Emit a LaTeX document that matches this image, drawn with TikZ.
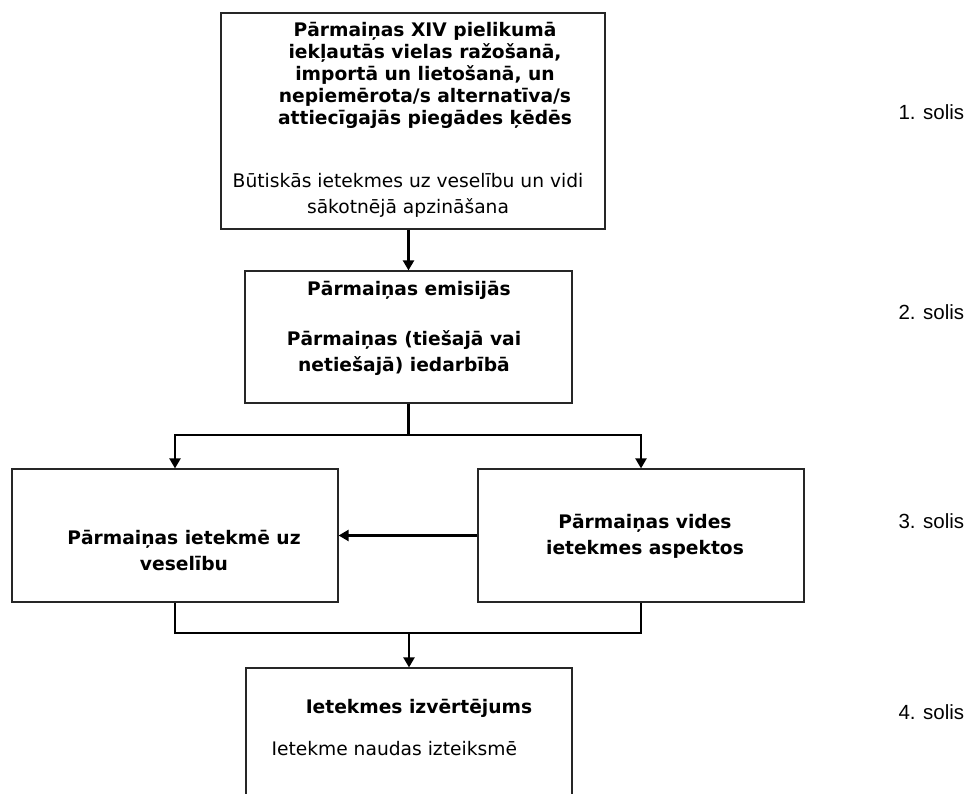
\documentclass[tikz,border=0pt]{standalone}
\usepackage{fontspec}
\setmainfont{DejaVu Sans}
\newfontfamily\arialfont{Liberation Sans}
\usetikzlibrary{arrows.meta}
\tikzset{
  box/.style={draw=black!85,line width=1.2pt,minimum width=326pt,minimum height=133pt,inner sep=0pt},
  conn/.style={line width=2.2pt},
  arr/.style={conn,-{Triangle[width=11pt,length=10pt]}},
  bold/.style={font=\fontsize{18.67}{26}\selectfont\bfseries,align=center},
  plain/.style={font=\fontsize{18.67}{26}\selectfont,align=center},
  steplbl/.style={font=\arialfont\fontsize{20.5}{24}\selectfont,anchor=west}
}
\begin{document}
\begin{tikzpicture}[x=1pt,y=-1pt]
\useasboundingbox (0,0) rectangle (971,794);
\clip (0,0) rectangle (971,794);
\node[box,minimum width=384pt,minimum height=216pt] (b1) at (413,121) {};
\node[box,minimum width=327pt,minimum height=132pt] (b2) at (408.5,337) {};
\node[box] (health) at (175,535.5) {};
\node[box] (env) at (641,535.5) {};
\node[box,minimum height=180pt] (eval) at (409,758) {};

\node[bold,font=\fontsize{18.67}{22}\selectfont\bfseries] (b1t) at (425,75) {Pārmaiņas XIV pielikumā\\iekļautās vielas ražošanā,\\importā un lietošanā, un\\nepiemērota/s alternatīva/s\\attiecīgajās piegādes ķēdēs};
\node[plain] (b1n) at (408,195) {Būtiskās ietekmes uz veselību un vidi\\sākotnējā apzināšana};
\node[bold] (b2t) at (409,290) {Pārmaiņas emisijās};
\node[bold] (b2n) at (404,353) {Pārmaiņas (tiešajā vai\\netiešajā) iedarbībā};
\node[bold] (healtht) at (184,550.5) {Pārmaiņas ietekmē uz\\veselību};
\node[bold] (envt) at (645,536.5) {Pārmaiņas vides\\ietekmes aspektos};
\node[bold] (evalt) at (419,708) {Ietekmes izvērtējums};
\node[plain,anchor=west] (evaln) at (268,749) {Ietekme naudas izteiksmē};

% soļu numuri labajā pusē
\foreach \n/\y in {1/112,2/312,3/521,4/712}
    \node[steplbl] (s\n) at (895,\y) {\n. solis};

\draw[arr] (b2.north |- b1.south) -- (b2.north);
\draw[conn] (b2.south) -- (b2.south |- 0,435) coordinate (split);
\draw[arr] (split) -| (health.north);
\draw[arr] (split) -| (env.north);
\draw[arr] (env.west) -- (health.east);
\coordinate (join) at (eval.north |- 0,633);
\draw[conn] (health.south) -- (health.south |- join) -- (env.south |- join) -- (env.south);
\draw[arr] (join) -- (eval.north);
\end{tikzpicture}
\end{document}
